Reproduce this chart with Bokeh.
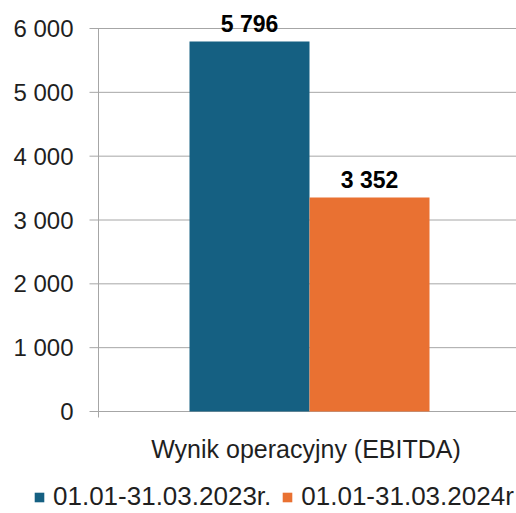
from bokeh.plotting import figure
from bokeh.models import (ColumnDataSource, FactorRange, FixedTicker, LabelSet, Legend,
                          LegendItem, Range1d)
from bokeh.core.properties import value
from bokeh.transform import dodge
from bokeh.embed import file_html
from bokeh.resources import INLINE

category = ["Wynik operacyjny  (EBITDA)"]
series_names = ["01.01-31.03.2023r.", "01.01-31.03.2024r"]
values_2023 = [5796]
values_2024 = [3352]
y_ticks = [0, 1000, 2000, 3000, 4000, 5000, 6000]
y_tick_labels = ["0", "1 000", "2 000", "3 000", "4 000", "5 000", "6 000"]

FONT = "Liberation Sans"
BLUE = "#156082"
ORANGE = "#E97132"
GRID = "#a6a6a6"
TXT = "#1f1f1f"

# layout (pixels) -- the frame covers the whole canvas
W, H = 516, 513
ZERO_PX = 411            # pixel row of value 0
AXIS_PX = 98             # pixel column of the value axis
PX_PER_UNIT = 383 / 6000.0
Y_START = -(H - ZERO_PX) / PX_PER_UNIT
Y_END = ZERO_PX / PX_PER_UNIT

def off(px):
    """horizontal pixel position -> offset from the category centre (range 0..1)"""
    return px / W - 0.5

def fmt(v):
    return f"{v:,}".replace(",", " ")

src_a = ColumnDataSource(dict(cat=category, val=values_2023, lab=[fmt(v) for v in values_2023]))
src_b = ColumnDataSource(dict(cat=category, val=values_2024, lab=[fmt(v) for v in values_2024]))
src_ax = ColumnDataSource(dict(cat=category, y0=[y_ticks[0]], y1=[y_ticks[-1]]))
src_ticks = ColumnDataSource(dict(cat=category * len(y_ticks), y=y_ticks, lab=y_tick_labels))

p = figure(x_range=FactorRange(*category), y_range=Range1d(Y_START, Y_END),
           frame_width=W, frame_height=H,
           output_backend="svg", toolbar_location=None,
           min_border_left=0, min_border_right=0, min_border_top=0, min_border_bottom=0)
p.outline_line_color = None
p.background_fill_color = "white"
p.border_fill_color = "white"
p.xaxis.visible = False
p.yaxis.visible = False
p.xgrid.grid_line_color = None
p.ygrid.grid_line_color = None

# horizontal gridlines + outward tick marks
p.segment(x0=dodge("cat", off(89), range=p.x_range), x1=dodge("cat", 0.5, range=p.x_range),
          y0="y", y1="y", source=src_ticks, line_color=GRID, line_width=1)

# value axis line (from just below 0 up to the top tick)
p.segment(x0=dodge("cat", off(AXIS_PX), range=p.x_range),
          x1=dodge("cat", off(AXIS_PX), range=p.x_range),
          y0=dodge("y0", -6 / PX_PER_UNIT), y1="y1", source=src_ax,
          line_color=GRID, line_width=1)

# tick labels
p.add_layout(LabelSet(x=dodge("cat", off(73), range=p.x_range), y="y", text="lab",
                      source=src_ticks, text_align="right", text_baseline="middle",
                      text_font=value(FONT), text_font_size=value("24px"), text_color=TXT))

bw = 120 / W
offs = (off(249), off(369))
r1 = p.vbar(x=dodge("cat", offs[0], range=p.x_range), top="val", width=bw, source=src_a,
            fill_color=BLUE, line_color=None)
r2 = p.vbar(x=dodge("cat", offs[1], range=p.x_range), top="val", width=bw, source=src_b,
            fill_color=ORANGE, line_color=None)

for src, o in ((src_a, offs[0]), (src_b, offs[1])):
    p.add_layout(LabelSet(x=dodge("cat", o, range=p.x_range), y="val", text="lab", source=src,
                          text_align="center", text_baseline="alphabetic", y_offset=10,
                          text_font=value(FONT), text_font_size=value("23px"),
                          text_font_style="bold", text_color="black"))

# category label under the bars
p.add_layout(LabelSet(x=dodge("cat", off(309), range=p.x_range), y="y0", text="cat",
                      source=src_ax, text_align="center", text_baseline="middle",
                      y_offset=-37, text_font=value(FONT), text_font_size=value("25px"),
                      text_color=TXT))

legend = Legend(items=[LegendItem(label=series_names[0], renderers=[r1]),
                       LegendItem(label=series_names[1], renderers=[r2])],
                orientation="horizontal", location=(33, 1),
                label_text_font=FONT, label_text_font_size="26px", label_text_color=TXT,
                glyph_width=12, glyph_height=12, label_height=30, label_standoff=8,
                spacing=10, padding=0, margin=0, border_line_color=None,
                background_fill_alpha=0)
p.add_layout(legend)

open("out.html", "w").write(file_html(p, INLINE))
